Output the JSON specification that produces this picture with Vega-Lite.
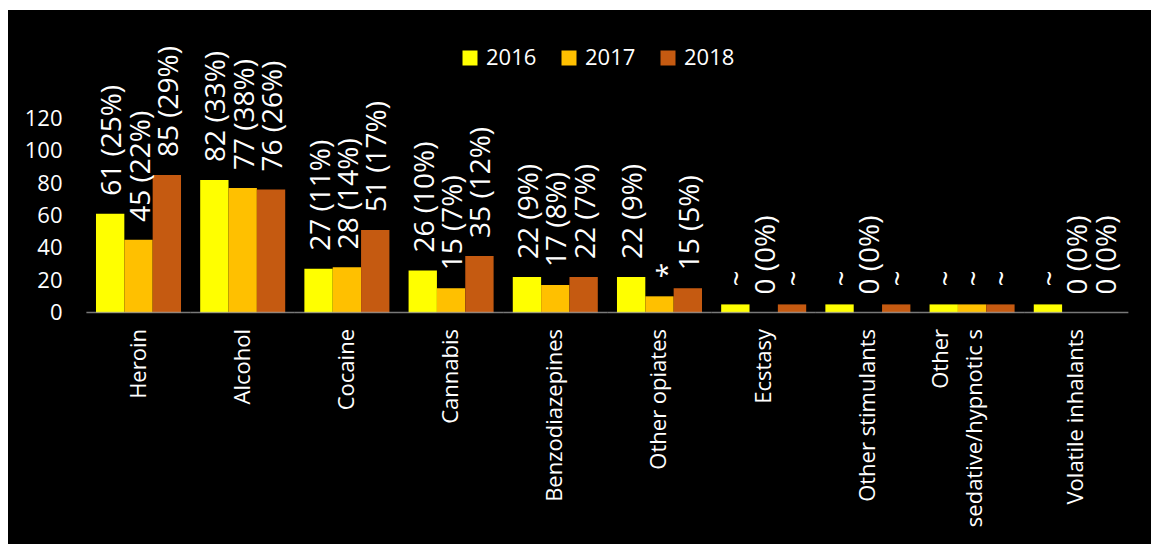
{
  "$schema": "https://vega.github.io/schema/vega-lite/v6.json",
  "width": 1143,
  "height": 534,
  "autosize": {"type": "none"},
  "padding": {"left": 8, "top": 10, "right": 0, "bottom": 0},
  "background": "white",
  "config": {"view": {"fill": "black", "stroke": null}, "font": "Open Sans"},
  "data": {
    "values": [
      {"drug": "Heroin", "year": "2016", "value": 61, "label": "61 (25%)"},
      {"drug": "Heroin", "year": "2017", "value": 45, "label": "45 (22%)"},
      {"drug": "Heroin", "year": "2018", "value": 85, "label": "85 (29%)"},
      {"drug": "Alcohol", "year": "2016", "value": 82, "label": "82 (33%)"},
      {"drug": "Alcohol", "year": "2017", "value": 77, "label": "77 (38%)"},
      {"drug": "Alcohol", "year": "2018", "value": 76, "label": "76 (26%)"},
      {"drug": "Cocaine", "year": "2016", "value": 27, "label": "27 (11%)"},
      {"drug": "Cocaine", "year": "2017", "value": 28, "label": "28 (14%)"},
      {"drug": "Cocaine", "year": "2018", "value": 51, "label": "51 (17%)"},
      {"drug": "Cannabis", "year": "2016", "value": 26, "label": "26 (10%)"},
      {"drug": "Cannabis", "year": "2017", "value": 15, "label": "15 (7%)"},
      {"drug": "Cannabis", "year": "2018", "value": 35, "label": "35 (12%)"},
      {"drug": "Benzodiazepines", "year": "2016", "value": 22, "label": "22 (9%)"},
      {"drug": "Benzodiazepines", "year": "2017", "value": 17, "label": "17 (8%)"},
      {"drug": "Benzodiazepines", "year": "2018", "value": 22, "label": "22 (7%)"},
      {"drug": "Other opiates", "year": "2016", "value": 22, "label": "22 (9%)"},
      {"drug": "Other opiates", "year": "2017", "value": 10, "label": "*"},
      {"drug": "Other opiates", "year": "2018", "value": 15, "label": "15 (5%)"},
      {"drug": "Ecstasy", "year": "2016", "value": 5, "label": "~"},
      {"drug": "Ecstasy", "year": "2017", "value": 0, "label": "0 (0%)"},
      {"drug": "Ecstasy", "year": "2018", "value": 5, "label": "~"},
      {"drug": "Other stimulants", "year": "2016", "value": 5, "label": "~"},
      {"drug": "Other stimulants", "year": "2017", "value": 0, "label": "0 (0%)"},
      {"drug": "Other stimulants", "year": "2018", "value": 5, "label": "~"},
      {"drug": "Other sedative/hypnotic s", "year": "2016", "value": 5, "label": "~"},
      {"drug": "Other sedative/hypnotic s", "year": "2017", "value": 5, "label": "~"},
      {"drug": "Other sedative/hypnotic s", "year": "2018", "value": 5, "label": "~"},
      {"drug": "Volatile inhalants", "year": "2016", "value": 5, "label": "~"},
      {"drug": "Volatile inhalants", "year": "2017", "value": 0, "label": "0 (0%)"},
      {"drug": "Volatile inhalants", "year": "2018", "value": 0, "label": "0 (0%)"}
    ]
  },
  "encoding": {
    "x": {
      "field": "drug",
      "type": "nominal",
      "sort": null,
      "scale": {"paddingInner": 0.184, "paddingOuter": 0.5768, "align": 0.732},
      "axis": {
        "orient": "bottom",
        "offset": -231.5,
        "domain": false,
        "ticks": false,
        "tickSize": 0,
        "grid": false,
        "title": null,
        "labelAngle": 270,
        "labelAlign": "right",
        "labelBaseline": "middle",
        "labelPadding": 16,
        "labelFont": "Open Sans",
        "labelFontSize": 22,
        "labelColor": "white",
        "labelLimit": 0,
        "labelLineHeight": 34,
        "labelOffset": {"condition": {"test": "datum.value == 'Other sedative/hypnotic s'", "value": -31}, "value": 0},
        "labelExpr": "datum.label == 'Other sedative/hypnotic s' ? ['Other\u00a0\u00a0\u00a0\u00a0\u00a0\u00a0\u00a0\u00a0\u00a0\u00a0\u00a0\u00a0\u00a0\u00a0\u00a0\u00a0\u00a0\u00a0\u00a0\u00a0\u00a0\u00a0\u00a0\u00a0\u00a0\u00a0\u00a0\u00a0\u00a0\u00a0\u00a0\u00a0\u00a0\u00a0\u00a0', 'sedative/hypnotic s'] : datum.label"
      }
    }
  },
  "layer": [
    {
      "mark": {"type": "bar"},
      "encoding": {
        "xOffset": {"field": "year", "type": "nominal", "scale": {"paddingInner": 0, "paddingOuter": 0}},
        "y": {
          "field": "value",
          "type": "quantitative",
          "scale": {"domain": [-143.2, 187.1], "nice": false, "zero": false},
          "axis": {
            "orient": "left",
            "offset": -54,
            "values": [0, 20, 40, 60, 80, 100, 120],
            "domain": false,
            "ticks": false,
            "tickSize": 0,
            "grid": false,
            "title": null,
            "labelPadding": 0,
            "labelFont": "Open Sans",
            "labelFontSize": 22,
            "labelColor": "white",
            "labelAlign": "right",
            "labelBaseline": "middle"
          }
        },
        "y2": {"datum": 0},
        "color": {
          "field": "year",
          "type": "nominal",
          "scale": {"domain": ["2016", "2017", "2018"], "range": ["#FFFF00", "#FFC000", "#C55A11"]},
          "legend": {
            "orient": "none",
            "legendX": 451,
            "legendY": 37,
            "direction": "horizontal",
            "title": null,
            "symbolType": "square",
            "symbolSize": 225,
            "symbolStrokeWidth": 0,
            "labelFont": "Open Sans",
            "labelFontSize": 22,
            "labelColor": "white",
            "labelOffset": 5,
            "columnPadding": 21,
            "padding": 0
          }
        }
      }
    },
    {
      "transform": [{"filter": "datum.label != '*'"}],
      "mark": {"type": "text", "angle": 270, "align": "left", "baseline": "middle", "dx": 18, "dy": 3, "fontSize": 28, "font": "Open Sans", "color": "white"},
      "encoding": {
        "xOffset": {"field": "year", "type": "nominal"},
        "y": {"field": "value", "type": "quantitative"},
        "text": {"field": "label", "type": "nominal"}
      }
    },
    {
      "transform": [{"filter": "datum.label == '*'"}],
      "mark": {"type": "text", "angle": 270, "align": "left", "baseline": "middle", "dx": 18, "dy": 10, "fontSize": 28, "font": "Open Sans", "color": "white"},
      "encoding": {
        "xOffset": {"field": "year", "type": "nominal"},
        "y": {"field": "value", "type": "quantitative"},
        "text": {"field": "label", "type": "nominal"}
      }
    },
    {
      "transform": [{"filter": "datum.year == '2016'"}],
      "mark": {"type": "tick", "size": 104.2, "thickness": 1.5, "color": "#ababab", "orient": "horizontal"},
      "encoding": {
        "y": {"datum": 0}
      }
    }
  ]
}
